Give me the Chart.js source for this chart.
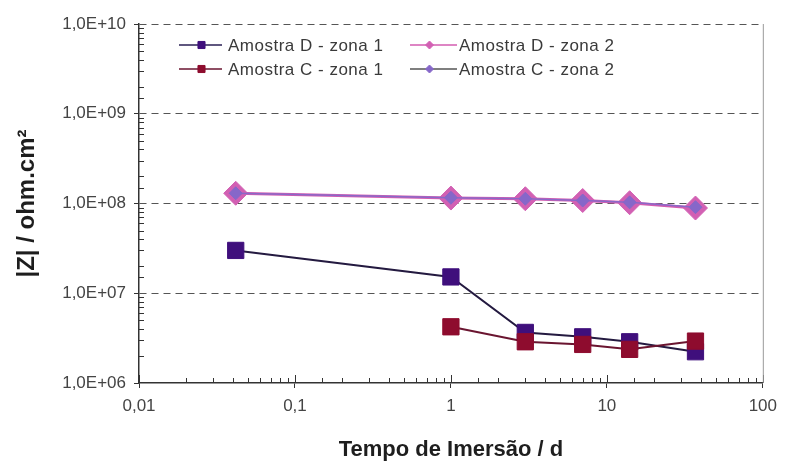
<!DOCTYPE html>
<html>
<head>
<meta charset="utf-8">
<script src="https://cdn.jsdelivr.net/npm/chart.js@4.4.1/dist/chart.umd.min.js"></script>
<style>
  html, body { margin: 0; padding: 0; background: #fff; }
  #wrap { width: 785px; height: 463px; }
</style>
</head>
<body>
<div id="wrap"><canvas id="c" width="785" height="463"></canvas></div>
<script>
// Immersion time (days) and impedance modulus |Z| (ohm.cm²)
const days = [0.0417, 1, 3, 7, 14, 37];
const daysC1 = [1, 3, 7, 14, 37];
const zD1 = [3.0e7, 1.52e7, 3.66e6, 3.27e6, 2.88e6, 2.23e6];
const zD2 = [1.30e8, 1.15e8, 1.13e8, 1.08e8, 1.02e8, 8.9e7];
const zC1 = [4.23e6, 2.88e6, 2.69e6, 2.37e6, 2.93e6];
const zC2 = [1.30e8, 1.16e8, 1.13e8, 1.08e8, 1.03e8, 9.1e7];
const seriesNames = ['Amostra D - zona 1', 'Amostra D - zona 2', 'Amostra C - zona 1', 'Amostra C - zona 2'];

// Axis ranges and decade labels
const xRange = [0.01, 100];
const yRange = [1e6, 1e10];
const xTickLabels = ['0,01', '0,1', '1', '10', '100'];
const yTickLabels = ['1,0E+06', '1,0E+07', '1,0E+08', '1,0E+09', '1,0E+10'];

const FONT = "'Liberation Sans', Arial, sans-serif";

const isDecade = v => {
  if (!(v > 0)) return false;
  const l = Math.log10(v);
  return Math.abs(l - Math.round(l)) < 1e-6;
};
const decadeLabel = (v, min, labels) => {
  if (!isDecade(v)) return '';
  const i = Math.round(Math.log10(v)) - Math.round(Math.log10(min));
  return labels[i] !== undefined ? labels[i] : '';
};
const pts = (xs, ys) => xs.map((x, i) => ({ x, y: ys[i] }));

// Short tick marks pointing into the plot, plus the thin right frame
const innerTicks = {
  id: 'innerTicks',
  beforeDatasetsDraw(chart) {
    const { ctx, chartArea: a, scales: { x, y } } = chart;
    ctx.save();
    ctx.strokeStyle = '#333';
    ctx.lineWidth = 1;
    ctx.beginPath();
    y.ticks.forEach(t => {
      if (isDecade(t.value)) return;
      const py = Math.round(y.getPixelForValue(t.value)) + 0.5;
      ctx.moveTo(a.left, py);
      ctx.lineTo(a.left + 5, py);
    });
    x.ticks.forEach(t => {
      const px = Math.round(x.getPixelForValue(t.value)) + 0.5;
      const len = isDecade(t.value) ? 8 : 5;
      ctx.moveTo(px, a.bottom);
      ctx.lineTo(px, a.bottom - len);
    });
    ctx.stroke();
    ctx.strokeStyle = '#9a9a9a';
    ctx.beginPath();
    ctx.moveTo(a.right + 0.5, a.top);
    ctx.lineTo(a.right + 0.5, a.bottom);
    ctx.stroke();
    ctx.restore();
  }
};

// Two-column legend inside the plot area
const insideLegend = {
  id: 'insideLegend',
  afterDraw(chart) {
    const { ctx } = chart;
    const slots = [
      { ds: 0, x0: 179, x1: 222, tx: 228, y: 45 },
      { ds: 1, x0: 410, x1: 457, tx: 459, y: 45 },
      { ds: 2, x0: 179, x1: 222, tx: 228, y: 69 },
      { ds: 3, x0: 410, x1: 457, tx: 459, y: 69 }
    ];
    ctx.save();
    slots.forEach(s => {
      const d = chart.data.datasets[s.ds];
      ctx.strokeStyle = d.legendLine || d.borderColor;
      ctx.lineWidth = 1.5;
      ctx.beginPath();
      ctx.moveTo(s.x0, s.y);
      ctx.lineTo(s.x1, s.y);
      ctx.stroke();
      ctx.fillStyle = d.pointBackgroundColor;
      ctx.strokeStyle = d.pointBorderColor;
      ctx.lineWidth = 1;
      Chart.helpers.drawPoint(ctx, { pointStyle: d.pointStyle, radius: d.legendRadius, rotation: 0, borderWidth: 1 },
        (s.x0 + s.x1) / 2 + (s.ds % 2 === 0 ? 1 : -4), s.y);
      ctx.fillStyle = '#3a3a3a';
      ctx.font = '17px ' + FONT;
      ctx.letterSpacing = '0.5px';
      ctx.textBaseline = 'middle';
      ctx.textAlign = 'left';
      ctx.fillText(d.label, s.tx, s.y + 1);
    });
    ctx.restore();
  }
};

new Chart(document.getElementById('c'), {
  type: 'line',
  data: {
    datasets: [
      {
        label: seriesNames[0], data: pts(days, zD1),
        borderColor: '#241a40', borderWidth: 2, legendLine: '#2a1f55',
        pointStyle: 'rect', pointRadius: 11.5, legendRadius: 5,
        pointBackgroundColor: '#3f0f7c', pointBorderColor: '#3f0f7c', pointBorderWidth: 1,
        order: 3
      },
      {
        label: seriesNames[1], data: pts(days, zD2),
        borderColor: '#d35db1', borderWidth: 3,
        pointStyle: 'rectRot', pointRadius: 12, legendRadius: 4,
        pointBackgroundColor: '#d260b3', pointBorderColor: '#d260b3', pointBorderWidth: 1,
        order: 1
      },
      {
        label: seriesNames[2], data: pts(daysC1, zC1),
        borderColor: '#6a1530', borderWidth: 2,
        pointStyle: 'rect', pointRadius: 11.5, legendRadius: 5,
        pointBackgroundColor: '#8e0c2e', pointBorderColor: '#8e0c2e', pointBorderWidth: 1,
        order: 2
      },
      {
        label: seriesNames[3], data: pts(days, zC2),
        borderColor: '#8a68c8', borderWidth: 1.5, legendLine: '#555',
        pointStyle: 'rectRot', pointRadius: 6.5, legendRadius: 4,
        pointBackgroundColor: '#8667c9', pointBorderColor: '#8667c9', pointBorderWidth: 1,
        order: 0
      }
    ]
  },
  options: {
    responsive: false,
    animation: false,
    devicePixelRatio: 1,
    layout: { padding: { top: 24, right: 16, left: 0, bottom: 0 } },
    plugins: { legend: { display: false }, tooltip: { enabled: false } },
    scales: {
      x: {
        type: 'logarithmic', position: 'bottom',
        min: xRange[0], max: xRange[1],
        afterFit(s) { s.height = 80; },
        grid: {
          drawOnChartArea: false, tickLength: 5, tickWidth: 1,
          tickColor: c => (c.tick && isDecade(c.tick.value)) ? '#333' : 'rgba(0,0,0,0)'
        },
        border: { color: '#333', width: 1.5 },
        ticks: {
          autoSkip: false, maxRotation: 0, minRotation: 0, padding: 8,
          color: '#444', font: { family: FONT, size: 17 },
          callback: v => decadeLabel(v, xRange[0], xTickLabels)
        },
        title: {
          display: true, text: 'Tempo de Imersão / d', color: '#1e1e1e',
          font: { family: FONT, size: 22, weight: 'bold' },
          padding: { top: 0, bottom: 0 }
        }
      },
      y: {
        type: 'logarithmic', position: 'left',
        min: yRange[0], max: yRange[1],
        afterFit(s) { s.width = 139; },
        grid: {
          lineWidth: 1, tickLength: 5, tickWidth: 1,
          color: c => (c.tick && isDecade(c.tick.value) && c.tick.value > yRange[0]) ? '#555' : 'rgba(0,0,0,0)',
          tickColor: c => (c.tick && isDecade(c.tick.value)) ? '#333' : 'rgba(0,0,0,0)'
        },
        border: { color: '#333', width: 1.5, dash: c => c.type === 'tick' ? [7, 5] : [] },
        ticks: {
          autoSkip: false, padding: 8,
          color: '#444', font: { family: FONT, size: 17 },
          callback: v => decadeLabel(v, yRange[0], yTickLabels)
        },
        title: {
          display: true, text: '|Z| / ohm.cm²', color: '#1e1e1e',
          font: { family: FONT, size: 24, weight: 'bold' },
          padding: { top: 13, bottom: 0 }
        }
      }
    }
  },
  plugins: [innerTicks, insideLegend]
});
</script>
</body>
</html>
